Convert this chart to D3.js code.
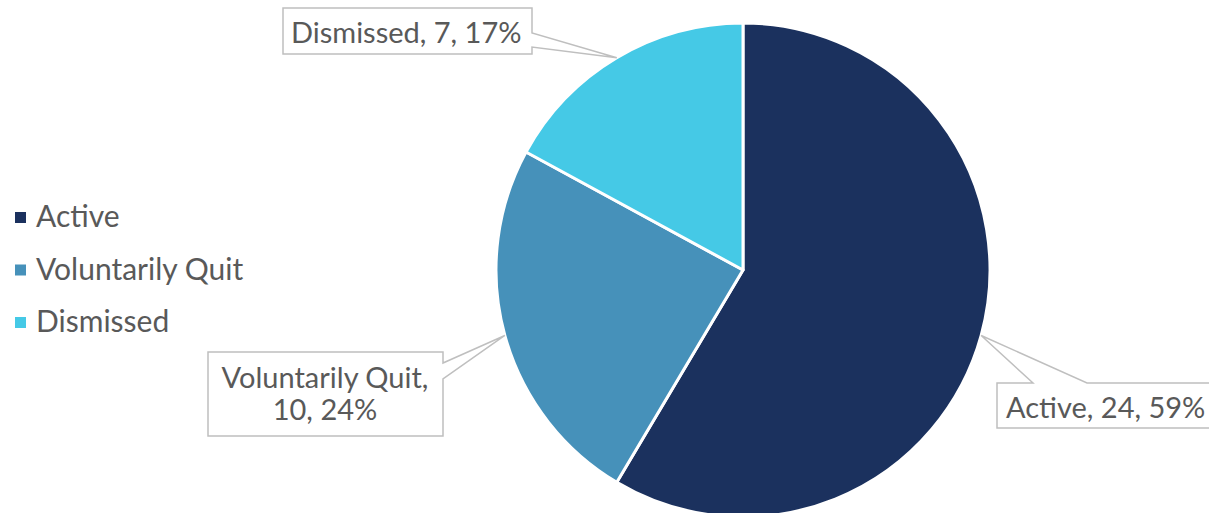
<!DOCTYPE html>
<html>
<head>
<meta charset="utf-8">
<script src="https://cdn.jsdelivr.net/npm/d3@7"></script>
<style>
  html, body { margin: 0; padding: 0; background: #ffffff; }
  svg { display: block; }
  text { font-family: Lato, "Open Sans", sans-serif; fill: #595959; }
</style>
</head>
<body>
<svg id="chart" width="1209" height="513"></svg>
<script>
// Employee status breakdown
const categories = ["Active", "Voluntarily Quit", "Dismissed"];
const counts = [24, 10, 7];
const colors = ["#1b315e", "#4691ba", "#45c9e6"];

const width = 1209, height = 513;
const cx = 743, cy = 270, radius = 247;

const svg = d3.select("#chart");
const total = d3.sum(counts);
const data = categories.map((c, i) => ({ name: c, value: counts[i], color: colors[i] }));

const pie = d3.pie().sort(null).value(d => d.value).startAngle(0).endAngle(2 * Math.PI);
const arc = d3.arc().innerRadius(0).outerRadius(radius);
const arcs = pie(data);

const g = svg.append("g").attr("transform", `translate(${cx},${cy})`);
g.selectAll("path.slice")
  .data(arcs)
  .join("path")
  .attr("class", "slice")
  .attr("d", arc)
  .attr("fill", d => d.data.color)
  .attr("stroke", "#ffffff")
  .attr("stroke-width", 3)
  .attr("stroke-linejoin", "round");

// Callout labels: boxes with a pointer toward the slice's outer edge
const pct = v => Math.round(v / total * 100) + "%";
const callouts = [
  { box: [283, 8, 249, 46], side: "right", base: [33, 47], lines: [43], anchor: "start", tx: 291 },
  { box: [208, 352, 235, 84], side: "right", base: [363, 379], lines: [388, 420], anchor: "middle", tx: 325 },
  { box: [997, 383, 240, 45], side: "top", base: [1033, 1087], lines: [418], anchor: "start", tx: 1006 }
];
// pair callout settings with slices
const calloutFor = { "Active": callouts[2], "Voluntarily Quit": callouts[1], "Dismissed": callouts[0] };

function calloutPath(c, tip) {
  const [x, y, w, h] = c.box;
  const p = d3.path();
  if (c.side === "right") {
    p.moveTo(x, y);
    p.lineTo(x + w, y);
    p.lineTo(x + w, c.base[0]);
    p.lineTo(tip[0], tip[1]);
    p.lineTo(x + w, c.base[1]);
    p.lineTo(x + w, y + h);
    p.lineTo(x, y + h);
    p.closePath();
  } else {
    p.moveTo(x, y);
    p.lineTo(c.base[0], y);
    p.lineTo(tip[0], tip[1]);
    p.lineTo(c.base[1], y);
    p.lineTo(x + w, y);
    p.lineTo(x + w, y + h);
    p.lineTo(x, y + h);
    p.closePath();
  }
  return p.toString();
}

const labelLayer = svg.append("g");
arcs.forEach(a => {
  const c = calloutFor[a.data.name];
  const mid = (a.startAngle + a.endAngle) / 2;
  const tip = [cx + Math.sin(mid) * radius, cy - Math.cos(mid) * radius];
  labelLayer.append("path")
    .attr("d", calloutPath(c, tip))
    .attr("fill", "#ffffff")
    .attr("stroke", "#bfbfbf")
    .attr("stroke-width", 1.5);
  const full = `${a.data.name}, ${a.data.value}, ${pct(a.data.value)}`;
  const parts = c.lines.length === 2
    ? [`${a.data.name},`, `${a.data.value}, ${pct(a.data.value)}`]
    : [full];
  parts.forEach((t, i) => {
    labelLayer.append("text")
      .attr("x", c.tx)
      .attr("y", c.lines[i])
      .attr("text-anchor", c.anchor)
      .attr("font-size", 29)
      .text(t);
  });
});

// Legend
const legend = svg.append("g");
const legendY = d3.scalePoint().domain(categories).range([227, 332]);
categories.forEach((c, i) => {
  const y = legendY(c);
  legend.append("rect")
    .attr("x", 15).attr("y", y - 15)
    .attr("width", 11).attr("height", 11)
    .attr("fill", colors[i]);
  legend.append("text")
    .attr("x", 36).attr("y", y)
    .attr("font-size", 30)
    .text(c);
});
</script>
</body>
</html>
